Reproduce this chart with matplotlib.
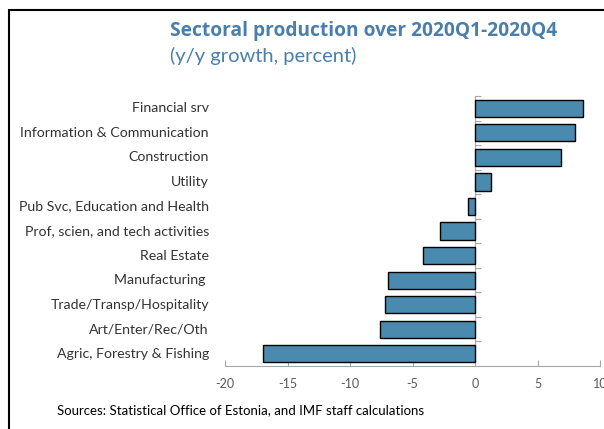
import matplotlib.pyplot as plt
import matplotlib.patches as mpatches
import numpy as np

# Datos (crecimiento interanual, %)
sectores = ['Financial srv', 'Information & Communication', 'Construction', 'Utility',
            'Pub Svc, Education and Health', 'Prof, scien, and tech activities',
            'Real Estate', 'Manufacturing ', 'Trade/Transp/Hospitality',
            'Art/Enter/Rec/Oth', 'Agric, Forestry & Fishing']
crecimiento = [8.6, 8.0, 6.9, 1.3, -0.6, -2.8, -4.2, -7.0, -7.2, -7.6, -17.0]
xticks = [-20, -15, -10, -5, 0, 5, 10]

azul = '#4a8aae'
gris = '#a6a6a6'
plt.rcParams['font.family'] = ['Open Sans', 'DejaVu Sans']

fig = plt.figure(figsize=(6.04, 4.29), dpi=100)
ax = fig.add_axes([225 / 604, 1 - 366 / 429, 375 / 604, 270 / 429])

pos = np.arange(len(sectores))
ax.barh(pos, crecimiento, height=0.7, color=azul, edgecolor='black', linewidth=1.0, zorder=3)
ax.set_ylim(len(sectores) - 0.5, -0.5)
ax.set_xlim(-20, 10)

# eje y en el cero con marcas entre categorías
ax.spines['left'].set_position(('data', 0))
ax.spines['left'].set_color(gris)
ax.spines['bottom'].set_color(gris)
ax.spines['top'].set_visible(False)
ax.spines['right'].set_visible(False)
ax.set_yticks(pos - 0.5)
ax.set_yticklabels([])
ax.tick_params(axis='y', direction='in', length=4, color=gris)
ax.set_xticks(xticks)
ax.set_xticklabels([str(t) for t in xticks], family=['Lato', 'DejaVu Sans'])
ax.tick_params(axis='x', direction='in', length=4, color=gris, labelcolor='#595959',
               labelsize=9, pad=9)

# etiquetas de categorías a la izquierda
for i, s in enumerate(sectores):
    ax.text(-0.043, i, s, transform=ax.get_yaxis_transform(), ha='right', va='center',
            fontsize=10.2, color='#333333', family=['Lato', 'DejaVu Sans'])

fig.text(170 / 604, 1 - 31 / 429, 'Sectoral production over 2020Q1-2020Q4',
         fontsize=13.8, fontweight='bold', color='#4a7fab', va='center')
fig.text(170 / 604, 1 - 56 / 429, '(y/y growth, percent)',
         fontsize=14.5, color='#4a7fab', va='center', family=['Lato', 'DejaVu Sans'])
fig.text(57 / 604, 1 - 410 / 429, 'Sources: Statistical Office of Estonia, and IMF staff calculations',
         fontsize=9.5, color='black', va='center', family=['Lato', 'DejaVu Sans'])

# marco
fig.patches.append(mpatches.Rectangle((9 / 604, -0.1), 1.2, (1 - 10 / 429) + 0.1,
                                      transform=fig.transFigure, fill=False,
                                      edgecolor='black', linewidth=1.5))

plt.savefig('out.png', dpi=100)
